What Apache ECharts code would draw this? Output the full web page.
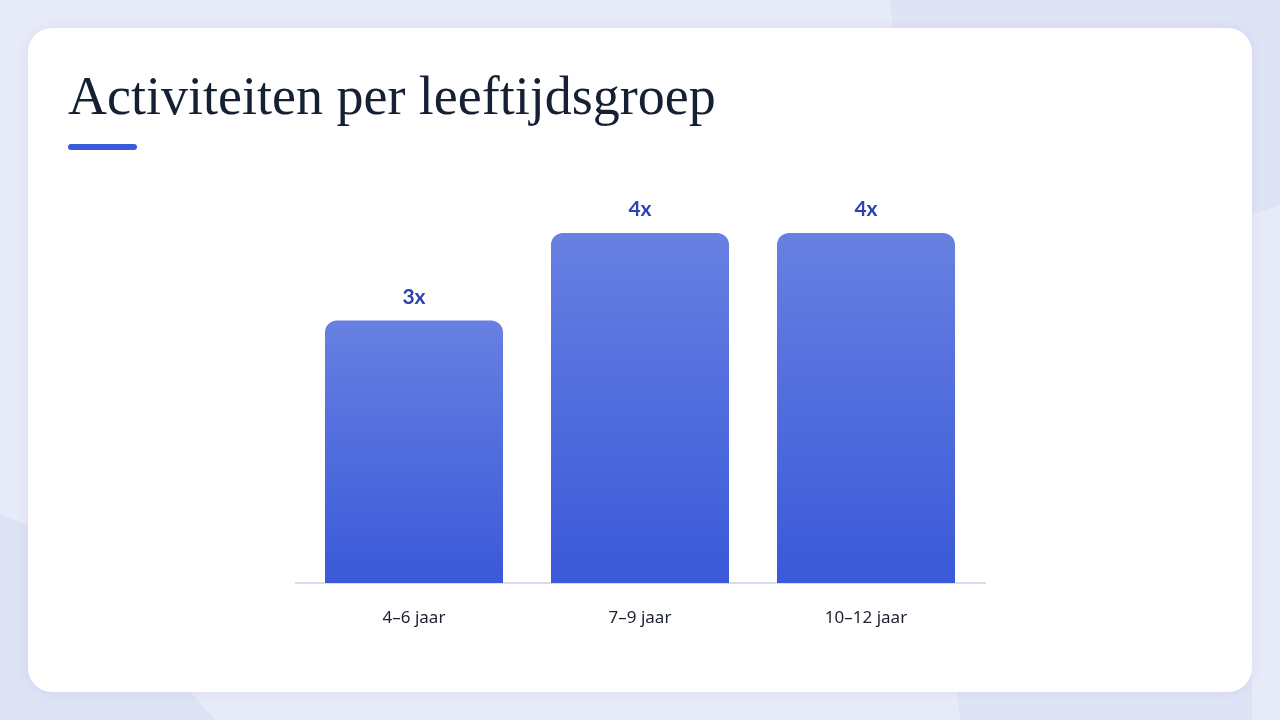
<!DOCTYPE html>
<html>
<head>
<meta charset="UTF-8">
<title>Activiteiten per leeftijdsgroep</title>
<script src="https://cdn.jsdelivr.net/npm/echarts@6/dist/echarts.min.js"></script>
<style>
  html, body { margin: 0; padding: 0; background: #e7eaf8; }
  #main { width: 1280px; height: 720px; }
</style>
</head>
<body>
<div id="main"></div>
<script>
// data
var categories = ['4–6 jaar', '7–9 jaar', '10–12 jaar'];
var values = [3, 4, 4];
var valueSuffix = 'x';
var titleText = 'Activiteiten per leeftijdsgroep';

var chart = echarts.init(document.getElementById('main'));

var option = {
  backgroundColor: '#e7eaf8',
  animation: false,
  graphic: [
    // achtergrondvormen
    { type: 'polygon', z: 0, shape: { points: [[890, 0], [1280, 0], [1280, 205], [1252, 215], [1252, 720], [960, 720]] },
      style: { fill: '#dfe3f6' } },
    { type: 'polygon', z: 0, shape: { points: [[0, 515], [28, 525], [60, 540], [215, 720], [0, 720]] },
      style: { fill: '#dde2f5' } },
    // kaart
    { type: 'rect', z: 1, shape: { x: 28, y: 28, width: 1224, height: 664, r: 24 },
      style: { fill: '#ffffff', shadowBlur: 12, shadowColor: 'rgba(60,80,160,0.08)' } },
    // titel
    { type: 'text', z: 2, left: 68, top: 73,
      style: { text: titleText, fill: '#162033', font: '54px "Liberation Serif", "DejaVu Serif", serif' } },
    { type: 'rect', z: 2, shape: { x: 68, y: 144, width: 69, height: 6, r: 3 },
      style: { fill: '#3a5bd9' } },
    // aslijn
    { type: 'line', z: 3, shape: { x1: 295, y1: 583, x2: 986, y2: 583 },
      style: { stroke: '#d6ddef', lineWidth: 2 } }
  ],
  grid: { left: 301, right: 301, top: 233, bottom: 137, containLabel: false },
  xAxis: {
    type: 'category',
    data: categories,
    z: 10,
    axisLine: { show: false },
    axisTick: { show: false },
    axisLabel: { margin: 27, color: '#1c2130', fontSize: 17, fontFamily: '"Noto Sans", Lato, sans-serif' }
  },
  yAxis: {
    type: 'value',
    min: 0, max: 4,
    show: false,
    splitLine: { show: false }
  },
  series: [{
    type: 'bar',
    data: values,
    barWidth: 178,
    z: 4,
    itemStyle: {
      borderRadius: [12, 12, 0, 0],
      color: new echarts.graphic.LinearGradient(0, 0, 0, 1, [
        { offset: 0, color: '#6780e1' },
        { offset: 1, color: '#3a59d9' }
      ])
    },
    label: {
      show: true,
      position: 'top',
      distance: 13,
      formatter: function (p) { return p.value + valueSuffix; },
      color: '#2b42b3',
      fontSize: 21,
      fontWeight: 'bold',
      fontFamily: 'Lato, "Noto Sans", sans-serif'
    }
  }]
};

chart.setOption(option);
</script>
</body>
</html>
